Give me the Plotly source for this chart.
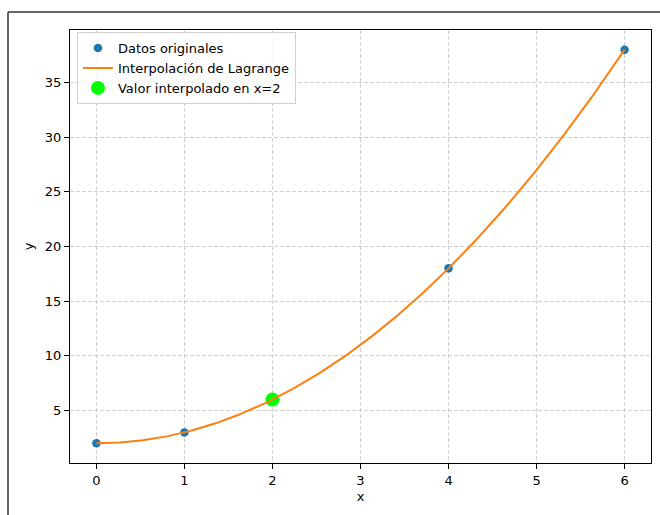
import numpy as np
import plotly.graph_objects as go

# Known sample points
x_data = [0, 1, 4, 6]
y_data = [2, 3, 18, 38]

# Point where the polynomial is evaluated
x_eval = 2

x_ticks = [0, 1, 2, 3, 4, 5, 6]
y_ticks = [5, 10, 15, 20, 25, 30, 35]


def lagrange(xs, ys, t):
    t = np.asarray(t, dtype=float)
    total = np.zeros_like(t)
    for i, (xi, yi) in enumerate(zip(xs, ys)):
        term = np.full_like(t, float(yi))
        for j, xj in enumerate(xs):
            if j != i:
                term *= (t - xj) / (xi - xj)
        total += term
    return total


x_curve = np.linspace(min(x_data), max(x_data), 400)
y_curve = lagrange(x_data, y_data, x_curve)
y_eval = float(lagrange(x_data, y_data, [x_eval])[0])

FONT = "DejaVu Sans"
FS = 13

fig = go.Figure()

fig.add_trace(go.Scatter(
    x=x_data, y=y_data, mode="markers", name="Datos originales",
    marker=dict(color="#1f77b4", size=8.5, line=dict(width=0)),
    legendrank=1,
))
fig.add_trace(go.Scatter(
    x=[x_eval], y=[y_eval], mode="markers", name="Valor interpolado en x=2",
    marker=dict(color="#00ff00", size=14, line=dict(width=0)),
    legendrank=3,
))
fig.add_trace(go.Scatter(
    x=x_curve, y=y_curve, mode="lines", name="Interpolación de Lagrange",
    line=dict(color="#ff7f0e", width=2),
    legendrank=2,
))

axis_common = dict(
    showline=True, linecolor="black", linewidth=1.1, mirror=True,
    ticks="outside", ticklen=5, tickwidth=1.1, tickcolor="black",
    showgrid=True, gridcolor="#d0d0d0", gridwidth=1, griddash="4px,2px",
    zeroline=False,
    tickfont=dict(family=FONT, size=FS, color="black"),
    title_font=dict(family=FONT, size=FS, color="black"),
)

fig.update_xaxes(
    range=[-0.3, 6.3], tickvals=x_ticks, ticktext=[str(v) for v in x_ticks],
    title_text="x", title_standoff=5, **axis_common,
)
fig.update_yaxes(
    range=[0.2, 39.8], tickvals=y_ticks, ticktext=[str(v) for v in y_ticks],
    title_text="y", title_standoff=8, **axis_common,
)

# Figure frame (left and top edges)
W0, X0, X1 = 660, 70, 651
H0, Y0, Y1 = 515, 30, 463
pw, ph = X1 - X0, Y1 - Y0


def px(xp):
    return (xp - X0) / pw


def py(yp):
    return (Y1 - yp) / ph


frame = dict(color="#333333", width=1.5)
fig.add_shape(type="line", xref="paper", yref="paper",
              x0=px(8), x1=px(662), y0=py(12), y1=py(12), line=frame)
fig.add_shape(type="line", xref="paper", yref="paper",
              x0=px(8), x1=px(8), y0=py(12), y1=py(520), line=frame)

fig.update_layout(
    width=W0, height=H0,
    margin=dict(l=X0, r=W0 - X1, t=Y0, b=H0 - Y1),
    paper_bgcolor="white", plot_bgcolor="white",
    font=dict(family=FONT, size=FS, color="black"),
    showlegend=True,
    legend=dict(
        x=0.012, y=0.995, xanchor="left", yanchor="top",
        bgcolor="rgba(255,255,255,0.8)", bordercolor="#d0d0d0", borderwidth=1,
        font=dict(family=FONT, size=FS, color="black"),
        itemwidth=30, tracegroupgap=0,
    ),
)

fig.write_html("out.html")
